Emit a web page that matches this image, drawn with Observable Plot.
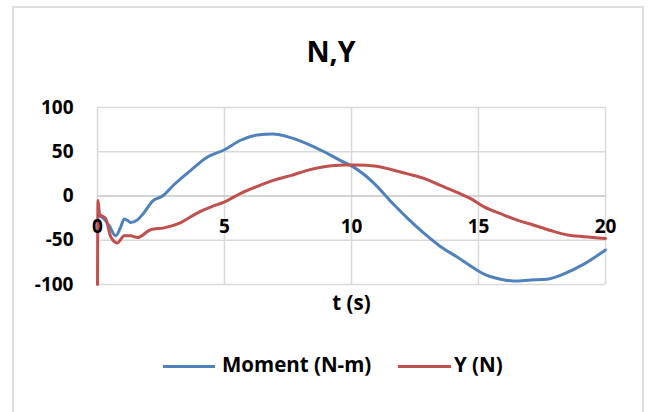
<!DOCTYPE html>
<html>
<head>
<meta charset="utf-8">
<script src="https://cdn.jsdelivr.net/npm/d3@7"></script>
<script src="https://cdn.jsdelivr.net/npm/@observablehq/plot@0.6"></script>
<style>
  html, body { margin: 0; padding: 0; background: #fff; }
  #wrap { position: relative; width: 652px; height: 412px; overflow: hidden; font-family: "Open Sans", Lato, sans-serif; }
  #border { position: absolute; left: 12px; top: 6px; width: 632px; height: 430px; border: 2px solid #dedede; box-sizing: border-box; }
  #chart { position: absolute; left: 0; top: 0; }
  #title { position: absolute; left: 331px; top: 37px; transform: translateX(-50%); font-size: 28.5px; line-height: 28px; font-weight: 700; color: #000; white-space: nowrap; }
  .leg { position: absolute; top: 354px; font-size: 20.5px; line-height: 21px; font-weight: 700; color: #000; white-space: nowrap; }
  .sw { position: absolute; top: 365px; height: 3px; }
</style>
</head>
<body>
<div id="wrap">
  <div id="border"></div>
  <div id="chart"></div>
  <div id="title"></div>
  <div id="legend"></div>
</div>
<script>
const titleText = "N,Y";
const xLabel = "t (s)";
const seriesNames = ["Moment (N-m)", "Y (N)"];
const seriesColors = ["#4f81bd", "#c0504d"];
const xTicks = [0, 5, 10, 15, 20];
const yTicks = [-100, -50, 0, 50, 100];

const tMoment = [0.05, 0.26, 0.45, 0.72, 0.9, 1.05, 1.2, 1.31, 1.57, 1.8, 2.16, 2.56, 3.02, 3.67, 4.33, 4.98, 5.64, 6.3, 6.89, 7.6, 8.26, 8.92, 9.57, 10, 10.9, 11.54, 12.2, 12.85, 13.5, 14.16, 14.69, 15.2, 15.87, 16.39, 17.05, 17.7, 18.36, 19.15, 20];
const moment = [-22, -26, -33, -45, -36, -26, -28, -30, -27, -20, -6, 0, 13, 29, 44, 52, 63, 69, 70, 66, 59, 50, 40, 34, 14, -6, -25, -42, -57, -69, -79, -88, -94, -96, -95, -94, -88, -77, -61];

const tY = [0, 0.02, 0.08, 0.33, 0.52, 0.78, 1.05, 1.3, 1.57, 2.1, 2.62, 3.28, 3.94, 4.5, 4.98, 5.64, 6.3, 6.95, 7.6, 8.26, 8.92, 9.7, 10.2, 10.9, 11.54, 12.2, 12.85, 13.5, 14.16, 14.69, 15.2, 15.87, 16.5, 17.18, 17.84, 18.5, 19.15, 20];
const yForce = [-100, -5, -20, -26, -46, -53, -45, -45, -47, -38, -36, -30, -19, -12, -7, 3, 11, 18, 23, 29, 33, 35, 35, 34, 30, 25, 20, 12, 4, -3, -12, -20, -27, -33, -39, -44, -46, -48];

const momentData = tMoment.map((t, i) => ({t, v: moment[i]}));
const yData = tY.map((t, i) => ({t, v: yForce[i]}));

const font = "'Open Sans', Lato, sans-serif";
const chart = Plot.plot({
  width: 652,
  height: 412,
  marginLeft: 97,
  marginRight: 47,
  marginTop: 107,
  marginBottom: 128,
  style: {background: "transparent", color: "#000", fontFamily: font},
  x: {domain: [0, 20], axis: null},
  y: {domain: [-100, 100], axis: null},
  marks: [
    Plot.ruleX(xTicks, {stroke: "#d9d9d9", strokeWidth: 1.5}),
    Plot.ruleY(yTicks.filter(d => d !== 0), {stroke: "#d9d9d9", strokeWidth: 1.5}),
    Plot.ruleY([0], {stroke: "#c6c6c6", strokeWidth: 1.5}),
    Plot.axisY(yTicks, {tickSize: 0, tickPadding: 24, tickFormat: d => String(d), fontSize: 19, fontWeight: "bold", fill: "#000", label: null}),
    Plot.line(momentData, {x: "t", y: "v", stroke: seriesColors[0], strokeWidth: 3, curve: "monotone-x"}),
    Plot.line(yData, {x: "t", y: "v", stroke: seriesColors[1], strokeWidth: 3, curve: "monotone-x"}),
    Plot.text(xTicks, {x: d => d, y: 0, dy: 31, text: d => String(d), fontSize: 19, fontWeight: "bold", fill: "#000"}),
    Plot.text([xLabel], {frameAnchor: "bottom", dy: 19, lineAnchor: "middle", fontSize: 20.5, fontWeight: "bold", fill: "#000"})
  ]
});
document.getElementById("chart").appendChild(chart);
document.getElementById("title").textContent = titleText;

const legend = document.getElementById("legend");
const legPos = [{sw: 163, swW: 52, tx: 222}, {sw: 398, swW: 53, tx: 454}];
seriesNames.forEach((name, i) => {
  const s = document.createElement("div");
  s.className = "sw";
  s.style.left = legPos[i].sw + "px";
  s.style.width = legPos[i].swW + "px";
  s.style.background = seriesColors[i];
  legend.appendChild(s);
  const t = document.createElement("div");
  t.className = "leg";
  t.style.left = legPos[i].tx + "px";
  t.textContent = name;
  legend.appendChild(t);
});
</script>
</body>
</html>
